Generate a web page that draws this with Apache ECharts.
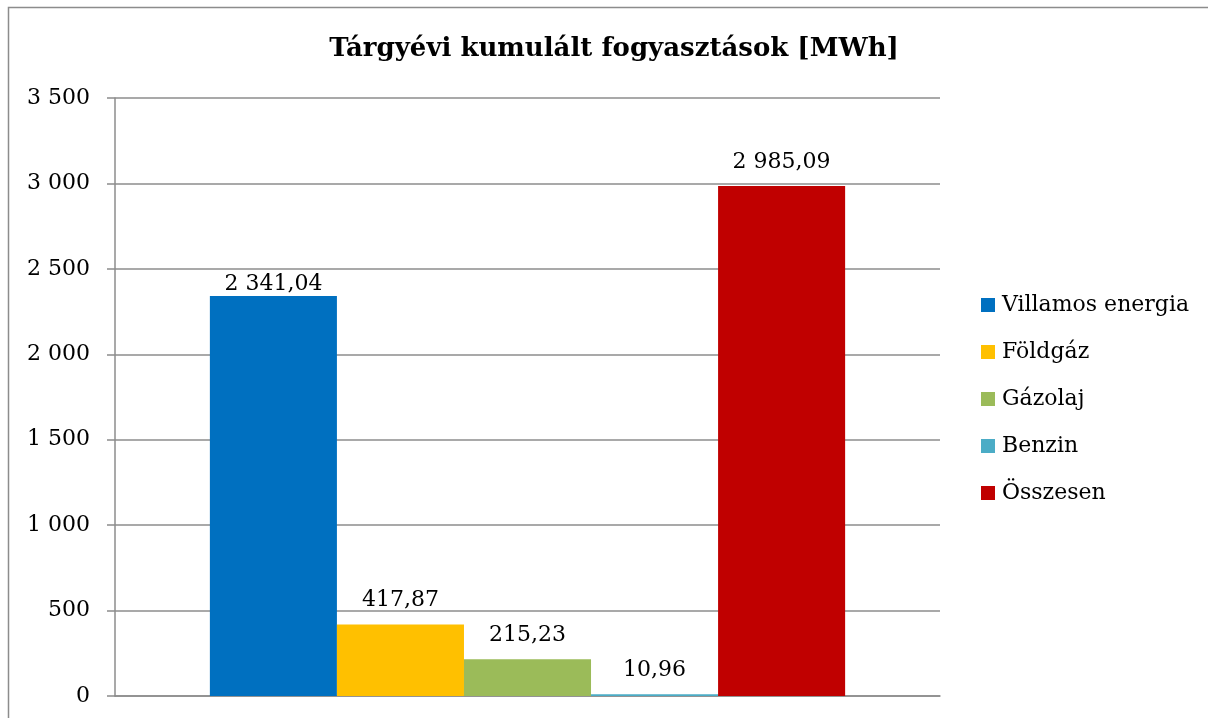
<!DOCTYPE html>
<html>
<head>
    <meta charset="utf-8">
    <script src="https://cdn.jsdelivr.net/npm/echarts@6/dist/echarts.min.js"></script>
    <style>
        html, body { margin: 0; padding: 0; background: #fff; }
        #main { width: 1208px; height: 718px; }
    </style>
</head>
<body>
<div id="main"></div>
<script>
    // adatok
    var categories = [''];
    var seriesNames = ['Villamos energia', 'Földgáz', 'Gázolaj', 'Benzin', 'Összesen'];
    var seriesValues = [2341.04, 417.87, 215.23, 10.96, 2985.09];
    var seriesColors = ['#0070c0', '#ffc000', '#9bbb59', '#4bacc6', '#c00000'];
    var yTicks = [0, 500, 1000, 1500, 2000, 2500, 3000, 3500];

    var font = 'DejaVu Serif';

    // magyar számformátum: szóköz az ezresek között, vessző a tizedesjel
    function huFormat(v, dec) {
        var s = v.toFixed(dec);
        var parts = s.split('.');
        parts[0] = parts[0].replace(/\B(?=(\d{3})+(?!\d))/g, ' ');
        return parts.length > 1 ? parts[0] + ',' + parts[1] : parts[0];
    }

    var series = [];
    for (var i = 0; i < seriesNames.length; i++) {
        series.push({
            name: seriesNames[i],
            type: 'bar',
            barGap: '0%',
            barCategoryGap: '23%',
            itemStyle: { color: seriesColors[i] },
            label: {
                show: true,
                position: 'top',
                // az első címke az eredetiben lejjebb van húzva
                distance: i === 0 ? 1 : 13,
                fontFamily: font,
                fontSize: 22,
                color: '#000',
                formatter: function (p) { return huFormat(p.value, 2); }
            },
            data: [seriesValues[i]]
        });
    }

    var chart = echarts.init(document.getElementById('main'));
    chart.setOption({
        animation: false,
        graphic: [{
            type: 'rect',
            shape: { x: 8.5, y: 7.5, width: 1220, height: 730 },
            style: { fill: null, stroke: '#8c8c8c', lineWidth: 1.5 },
            silent: true
        }],
        title: {
            text: 'Tárgyévi kumulált fogyasztások [MWh]',
            left: 609,
            top: 31,
            textAlign: 'center',
            textStyle: { fontFamily: font, fontWeight: 'bold', fontSize: 26, color: '#000' }
        },
        legend: {
            orient: 'vertical',
            left: 976,
            top: 289,
            itemWidth: 14,
            itemHeight: 14,
            itemGap: 25,
            icon: 'rect',
            textStyle: { fontFamily: font, fontSize: 22, color: '#000', padding: [0, 0, 0, 2] },
            data: seriesNames
        },
        grid: { left: 115, right: 268, top: 98, bottom: 22 },
        xAxis: {
            type: 'category',
            data: categories,
            axisLine: { lineStyle: { color: '#8c8c8c', width: 1.5 } },
            axisTick: { show: false },
            axisLabel: { show: false }
        },
        yAxis: {
            type: 'value',
            min: yTicks[0],
            max: yTicks[yTicks.length - 1],
            interval: 500,
            axisLine: { show: true, lineStyle: { color: '#8c8c8c', width: 1.5 } },
            axisTick: { show: true, length: 8, lineStyle: { color: '#8c8c8c', width: 1.5 } },
            splitLine: { lineStyle: { color: '#8c8c8c', width: 1.5 } },
            axisLabel: {
                fontFamily: font,
                fontSize: 22,
                color: '#000',
                margin: 25,
                formatter: function (v) { return huFormat(v, 0); }
            }
        },
        series: series
    });
</script>
</body>
</html>
